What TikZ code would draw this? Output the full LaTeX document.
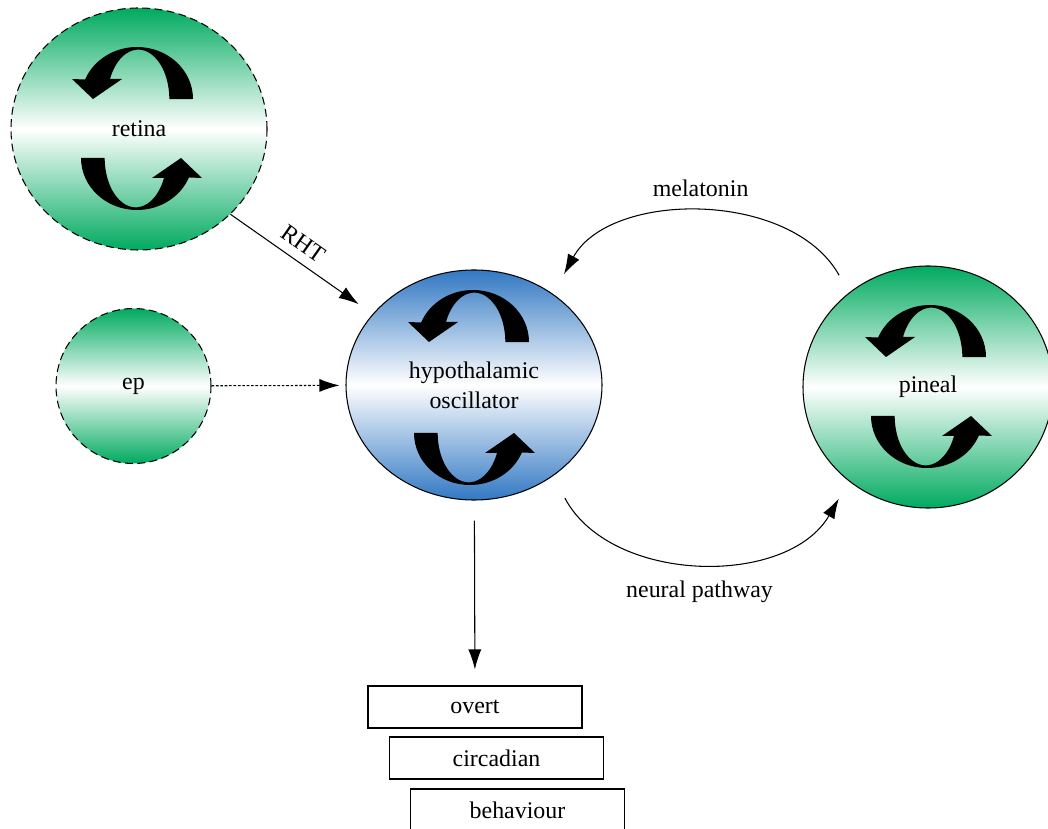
\documentclass[tikz,border=0pt]{standalone}
\usepackage{fontspec}
\setmainfont{Liberation Serif}
\usetikzlibrary{shapes.geometric,arrows.meta}
\definecolor{ringgreen}{RGB}{0,170,95}
\definecolor{ringblue}{RGB}{50,120,195}
\tikzset{cycarrow/.pic={
  \fill (1.08,0) arc[start angle=0,end angle=158,x radius=1.12,y radius=1.04]
     -- (-1.34,0.40) -- (-0.92,0) -- (-0.34,0.40) -- (-0.58,0.40)
     arc[start angle=156,end angle=0,x radius=0.62,y radius=0.99] -- cycle;
}}

\begin{document}
\begin{tikzpicture}[line width=0.6pt,>={Latex[length=4mm,width=2.6mm]},
                    font=\fontsize{13.6}{17}\selectfont,
                    osc node/.style={ellipse,draw,inner sep=0pt,align=center,
                                     top color=#1,bottom color=#1,middle color=white},
                    input node/.style={osc node=ringgreen,dash pattern=on 4.5pt off 2.5pt},
                    out box/.style={draw,minimum width=4.28cm,minimum height=0.84cm,inner sep=0pt}
                   ]
  \useasboundingbox (0,0) rectangle (20.96,-16.58);

  \node[input node,minimum width=5.12cm,minimum height=4.84cm] (retina) at (2.78,-2.58) {retina};
  \node[input node,circle,minimum size=3.10cm] (ep) at (2.67,-7.72) {ep};
  \node[osc node=ringblue,minimum width=5.12cm,minimum height=4.60cm] (hypo) at (9.48,-7.70) {hypothalamic\\oscillator};
  \node[osc node=ringgreen,minimum width=5.00cm,minimum height=4.84cm] (pineal) at (18.56,-7.74) {pineal};

  \pic at (2.78,-1.98) {cycarrow};
  \pic[rotate=180] at (2.70,-3.16) {cycarrow};
  \pic at (9.50,-6.84) {cycarrow};
  \pic[rotate=180] at (9.36,-8.66) {cycarrow};
  \pic at (18.64,-7.14) {cycarrow};
  \pic[rotate=180] at (18.50,-8.32) {cycarrow};

  \node[out box] (overt) at (9.50,-14.14) {overt};
  \node[out box] (circ) at (9.93,-15.16) {circadian};
  \node[out box] (behav) at (10.35,-16.20) {behaviour};

  \path[->]
      (retina.-43) edge [shorten >=0.34cm] node[above=2pt,sloped,pos=0.44] {RHT} (hypo)
      (ep) edge [dash pattern=on 1.5pt off 1pt,shorten >=0.12cm] (hypo)
      (hypo) edge [shorten <=0.4cm,shorten >=0.32cm] (overt)
      (pineal.130) edge [bend right=61,looseness=1.02,shorten <=0.4cm,shorten >=0.45cm]
                   node[above=7pt] {melatonin} (hypo.49)
      (hypo.-49) edge [bend right=61,looseness=1.06,shorten <=0.5cm,shorten >=0.4cm]
                   node[below=9pt] {neural pathway} (pineal.230);
\end{tikzpicture}
\end{document}
